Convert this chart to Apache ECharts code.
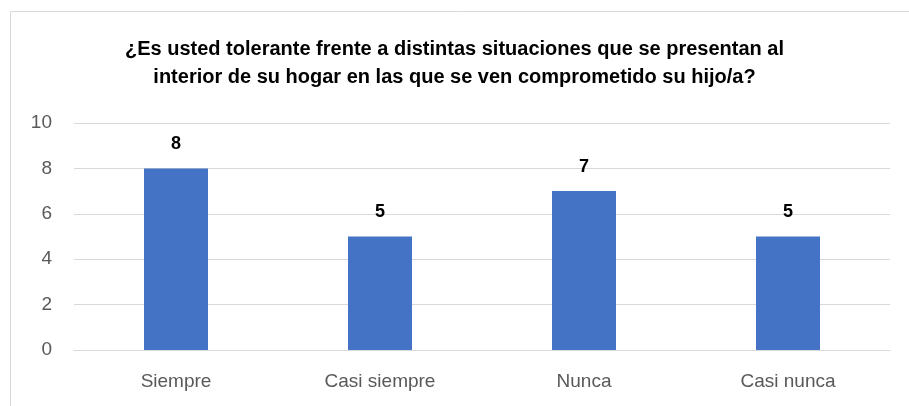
<!DOCTYPE html>
<head>
    <meta charset="utf-8"/>
    <style>
        html,body { height:100%; width:100%; margin:0; padding:0; background:#fff; }
    </style>
</head>
<body>
<div id="bar" style="width: 909px;height:406px"></div>
<script src="https://cdn.jsdelivr.net/npm/echarts@6/dist/echarts.min.js"></script>
<script type="text/javascript">
 // datos
 var categorias = ['Siempre', 'Casi siempre', 'Nunca', 'Casi nunca'];
 var valores = [8, 5, 7, 5];
 var ticksY = [0, 2, 4, 6, 8, 10];
 var titulo = '¿Es usted tolerante frente a distintas situaciones que se presentan al\ninterior de su hogar en las que se ven comprometido su hijo/a?';

 var myBarChart = echarts.init(document.getElementById('bar'));

 var barOptions = {
     backgroundColor: '#fff',
     textStyle: { fontFamily: 'Liberation Sans' },
     title: {
         text: titulo,
         left: 'center',
         top: 30,
         textStyle: {
             fontSize: 20,
             fontWeight: 'bold',
             color: '#000',
             lineHeight: 28,
             fontFamily: 'Liberation Sans'
         }
     },
     graphic: [{
         type: 'rect',
         shape: { x: 10.5, y: 11.5, width: 920, height: 420 },
         style: { fill: 'none', stroke: '#d9d9d9', lineWidth: 1 },
         silent: true
     }],
     grid: {
         left: 74,
         right: 19,
         top: 123,
         bottom: 56,
         containLabel: false
     },
     xAxis: {
         type: 'category',
         data: categorias,
         axisLine: { lineStyle: { color: '#d9d9d9', width: 1 } },
         axisTick: { show: false },
         axisLabel: { color: '#595959', fontSize: 19, margin: 22 }
     },
     yAxis: {
         type: 'value',
         min: ticksY[0],
         max: ticksY[ticksY.length - 1],
         interval: 2,
         axisLine: { show: false },
         axisTick: { show: false },
         splitLine: { lineStyle: { color: '#d9d9d9', width: 1 } },
         axisLabel: { color: '#595959', fontSize: 19, margin: 22 }
     },
     series: [{
         type: 'bar',
         data: valores,
         barWidth: 64,
         itemStyle: { color: '#4472c4' },
         label: {
             show: true,
             position: 'top',
             distance: 15,
             fontSize: 18,
             fontWeight: 'bold',
             color: '#000'
         }
     }]
 };

 myBarChart.setOption(barOptions);
</script>
</body>
